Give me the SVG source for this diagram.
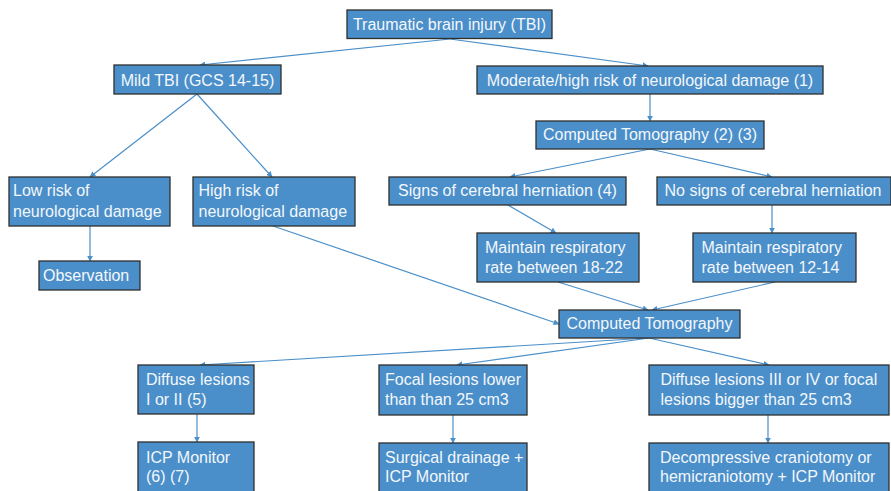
<svg xmlns="http://www.w3.org/2000/svg" width="891" height="491" viewBox="0 0 891 491">
  <defs>
    <style>
      .box { fill: #4a8fc9; stroke: #2e2e2e; stroke-width: 1.3; }
      .lbl { font-family: "Liberation Sans", Arial, sans-serif; font-size: 16px; fill: #f4f7fc; }
      .mid { text-anchor: middle; }
      .edge { fill: none; stroke: #4a8fc9; stroke-width: 1.2; marker-end: url(#arrow); }
    </style>
    <marker id="arrow" viewBox="0 0 10 10" refX="9" refY="5" markerWidth="6" markerHeight="6" markerUnits="userSpaceOnUse" orient="auto">
      <path d="M0,0 L10,5 L0,10 z" fill="#4a8fc9"/>
    </marker>
  </defs>
  <rect width="891" height="491" fill="#ffffff"/>

  <!-- connectors -->
  <g id="connectors">
    <line class="edge" x1="450" y1="39" x2="200" y2="65"/>
    <line class="edge" x1="450" y1="39" x2="648" y2="66"/>
    <line class="edge" x1="197" y1="94" x2="90" y2="177"/>
    <line class="edge" x1="197" y1="94" x2="272" y2="177"/>
    <line class="edge" x1="90" y1="226" x2="90" y2="261"/>
    <line class="edge" x1="650" y1="94" x2="650" y2="121"/>
    <line class="edge" x1="650" y1="149" x2="510" y2="177"/>
    <line class="edge" x1="650" y1="149" x2="772" y2="177"/>
    <line class="edge" x1="508" y1="205" x2="556" y2="233"/>
    <line class="edge" x1="772" y1="205" x2="772" y2="233"/>
    <line class="edge" x1="273" y1="226" x2="559" y2="324"/>
    <line class="edge" x1="558" y1="282" x2="648" y2="310"/>
    <line class="edge" x1="775" y1="282" x2="652" y2="310"/>
    <line class="edge" x1="649" y1="338" x2="200" y2="365"/>
    <line class="edge" x1="649" y1="338" x2="457" y2="365"/>
    <line class="edge" x1="649" y1="338" x2="769" y2="365"/>
    <line class="edge" x1="197" y1="414" x2="197" y2="442"/>
    <line class="edge" x1="453" y1="415" x2="453" y2="443"/>
    <line class="edge" x1="768" y1="415" x2="768" y2="443"/>
  </g>

  <g id="tbi">
    <rect class="box" x="347" y="10" width="205" height="28.5"/>
    <text class="lbl mid" x="449.5" y="30">Traumatic brain injury (TBI)</text>
  </g>
  <g id="mild">
    <rect class="box" x="114" y="65" width="167" height="29"/>
    <text class="lbl mid" x="197.5" y="86">Mild TBI (GCS 14-15)</text>
  </g>
  <g id="moderate">
    <rect class="box" x="477" y="66" width="346" height="28"/>
    <text class="lbl mid" x="650" y="86">Moderate/high risk of neurological damage (1)</text>
  </g>
  <g id="ct1">
    <rect class="box" x="536" y="121" width="228" height="28"/>
    <text class="lbl mid" x="650" y="140">Computed Tomography (2) (3)</text>
  </g>
  <g id="low">
    <rect class="box" x="9" y="177" width="161" height="49"/>
    <text class="lbl" x="13" y="196">Low risk of</text>
    <text class="lbl" x="13" y="216.5">neurological damage</text>
  </g>
  <g id="high">
    <rect class="box" x="193" y="177" width="162" height="49"/>
    <text class="lbl" x="198.5" y="196">High risk of</text>
    <text class="lbl" x="198.5" y="216.5">neurological damage</text>
  </g>
  <g id="observation">
    <rect class="box" x="39" y="261" width="101" height="29"/>
    <text class="lbl" x="43" y="281">Observation</text>
  </g>
  <g id="signs">
    <rect class="box" x="389" y="177" width="237" height="28"/>
    <text class="lbl mid" x="507.5" y="196">Signs of cerebral herniation (4)</text>
  </g>
  <g id="nosigns">
    <rect class="box" x="657" y="177" width="234" height="28"/>
    <text class="lbl mid" x="773" y="196">No signs of cerebral herniation</text>
  </g>
  <g id="resp-high">
    <rect class="box" x="477" y="233" width="162" height="49"/>
    <text class="lbl" x="485" y="253">Maintain respiratory</text>
    <text class="lbl" x="485" y="272.5">rate between 18-22</text>
  </g>
  <g id="resp-low">
    <rect class="box" x="693" y="233" width="163" height="49"/>
    <text class="lbl" x="701.5" y="253">Maintain respiratory</text>
    <text class="lbl" x="701.5" y="272.5">rate between 12-14</text>
  </g>
  <g id="ct2">
    <rect class="box" x="559" y="310" width="181" height="28"/>
    <text class="lbl mid" x="649.5" y="329">Computed Tomography</text>
  </g>
  <g id="diffuse12">
    <rect class="box" x="138" y="365" width="116" height="49"/>
    <text class="lbl" x="146" y="384.5">Diffuse lesions</text>
    <text class="lbl" x="146" y="404.5">I or II (5)</text>
  </g>
  <g id="focal">
    <rect class="box" x="379" y="365" width="148" height="50"/>
    <text class="lbl" x="385" y="385">Focal lesions lower</text>
    <text class="lbl" x="385" y="404.5">than than 25 cm3</text>
  </g>
  <g id="diffuse34">
    <rect class="box" x="649" y="365" width="240" height="50"/>
    <text class="lbl" x="660.5" y="385">Diffuse lesions III or IV or focal</text>
    <text class="lbl" x="660.5" y="404.5">lesions bigger than 25 cm3</text>
  </g>
  <g id="icp">
    <rect class="box" x="138" y="442" width="116" height="55"/>
    <text class="lbl" x="146" y="462.5">ICP Monitor</text>
    <text class="lbl" x="146" y="482">(6) (7)</text>
  </g>
  <g id="drainage">
    <rect class="box" x="379" y="443" width="148" height="55"/>
    <text class="lbl" x="385" y="463">Surgical drainage +</text>
    <text class="lbl" x="385" y="482">ICP Monitor</text>
  </g>
  <g id="craniotomy">
    <rect class="box" x="649" y="443" width="240" height="55"/>
    <text class="lbl" x="660" y="463">Decompressive craniotomy or</text>
    <text class="lbl" x="660" y="482">hemicraniotomy + ICP Monitor</text>
  </g>
</svg>
